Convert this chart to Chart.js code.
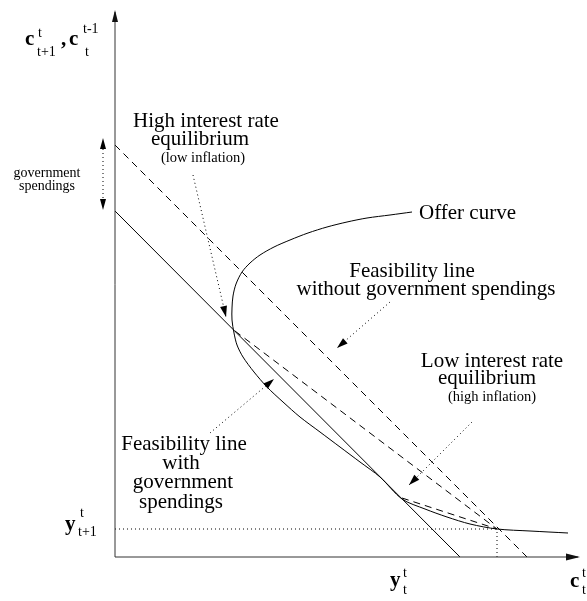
<!DOCTYPE html>
<html>
<head>
<meta charset="utf-8">
<script src="https://cdn.jsdelivr.net/npm/chart.js@4.4.0/dist/chart.umd.min.js"></script>
<style>
  html, body { margin: 0; padding: 0; background: #fff; }
  canvas { display: block; }
</style>
</head>
<body>
<canvas id="chart" width="587" height="601"></canvas>
<script>
// values (x: c_t^t, y: c_{t+1}^t)
const offerX = [453, 415, 382, 355, 332, 310, 287, 265, 245, 225, 205, 185, 168, 152, 139, 128, 122, 119, 117, 117, 118, 121, 127, 135, 145, 159, 175, 193, 212, 232, 252, 275, 297];
const offerY = [24, 26, 28, 33, 40, 48, 58, 80, 95, 110, 125, 140, 155, 170, 185, 200, 212, 224, 237, 249, 261, 273, 285, 294, 302, 310, 317, 324, 330, 335, 339, 342, 345];

const feasGovX = [0, 345];
const feasGovY = [346, 0];
const feasNoGovX = [0, 412];
const feasNoGovY = [412, 0];

const endowment = [382, 28];   // (y_t^t, y_{t+1}^t)
const highEq = [120, 226];
const lowEq = [287, 59];

const xMax = 467;
const yMax = 547;

function pts(xs, ys) {
    return xs.map((x, i) => ({ x: x, y: ys[i] }));
}

function line(data, dash, extra) {
    return Object.assign({
        data: data,
        showLine: true,
        borderColor: '#000',
        borderWidth: 1,
        borderDash: dash,
        pointRadius: 0,
        fill: false,
        tension: 0
    }, extra || {});
}

const SERIF = '"Liberation Serif", "DejaVu Serif", serif';

// annotation arrows in data units: [fromX, fromY, toX, toY]
const noteArrows = [
    [78, 382, 111, 240],
    [275, 255, 222, 209],
    [357, 135, 294, 72],
    [95, 124, 159, 178]
];

function arrowHead(ctx, x1, y1, x2, y2, len, half) {
    const a = Math.atan2(y2 - y1, x2 - x1);
    ctx.beginPath();
    ctx.moveTo(x2, y2);
    ctx.lineTo(x2 - len * Math.cos(a) + half * Math.sin(a), y2 - len * Math.sin(a) - half * Math.cos(a));
    ctx.lineTo(x2 - len * Math.cos(a) - half * Math.sin(a), y2 - len * Math.sin(a) + half * Math.cos(a));
    ctx.closePath();
    ctx.fill();
}

function dottedArrow(ctx, x1, y1, x2, y2) {
    ctx.save();
    ctx.setLineDash([1, 3]);
    ctx.beginPath();
    ctx.moveTo(x1, y1);
    ctx.lineTo(x2, y2);
    ctx.stroke();
    ctx.restore();
    arrowHead(ctx, x1, y1, x2, y2, 11, 3.5);
}

function script(ctx, base, sup, sub, x, yb, supY, subY, supDx, subDx) {
    ctx.textAlign = 'left';
    ctx.font = 'bold 21px ' + SERIF;
    ctx.fillText(base, x, yb);
    ctx.font = '14px ' + SERIF;
    ctx.fillText(sup, x + supDx, supY);
    ctx.fillText(sub, x + subDx, subY);
}

function centered(ctx, text, x, y, size) {
    ctx.textAlign = 'center';
    ctx.font = size + 'px ' + SERIF;
    ctx.fillText(text, x, y);
}

const drawing = {
    id: 'drawing',
    afterDraw(chart) {
        const ctx = chart.ctx;
        const sx = chart.scales.x, sy = chart.scales.y;
        const X = v => sx.getPixelForValue(v);
        const Y = v => sy.getPixelForValue(v);
        ctx.save();
        ctx.lineWidth = 1;

        // axes with arrows
        ctx.strokeStyle = '#333';
        ctx.beginPath();
        ctx.moveTo(X(0), Y(yMax) + 2);
        ctx.lineTo(X(0), Y(0));
        ctx.lineTo(X(xMax) - 4, Y(0));
        ctx.stroke();
        ctx.fillStyle = '#111';
        arrowHead(ctx, X(0), Y(0), X(0), Y(yMax), 12, 3);
        arrowHead(ctx, X(0), Y(0), X(xMax - 2), Y(0), 14, 3.5);

        ctx.strokeStyle = '#000';
        ctx.fillStyle = '#000';
        noteArrows.forEach(a => dottedArrow(ctx, X(a[0]), Y(a[1]), X(a[2]), Y(a[3])));

        // government spendings double arrow
        const gx = X(-12);
        ctx.save();
        ctx.setLineDash([1, 3]);
        ctx.beginPath();
        ctx.moveTo(gx, Y(412));
        ctx.lineTo(gx, Y(352));
        ctx.stroke();
        ctx.restore();
        arrowHead(ctx, gx, Y(390), gx, Y(419), 11, 3);
        arrowHead(ctx, gx, Y(380), gx, Y(347), 11, 3);

        ctx.textBaseline = 'alphabetic';
        centered(ctx, 'High interest rate', 206, 127, 21);
        centered(ctx, 'equilibrium', 200, 145, 21);
        centered(ctx, '(low inflation)', 203, 162, 14.5);

        centered(ctx, 'government', 47, 177, 14);
        centered(ctx, 'spendings', 47, 190, 14);

        ctx.textAlign = 'left';
        ctx.font = '21px ' + SERIF;
        ctx.fillText('Offer curve', 419, 219);

        centered(ctx, 'Feasibility line', 412, 277, 21);
        centered(ctx, 'without government spendings', 426, 295, 21);

        centered(ctx, 'Low interest rate', 492, 367, 21);
        centered(ctx, 'equilibrium', 487, 384, 21);
        centered(ctx, '(high inflation)', 492, 401, 14.5);

        centered(ctx, 'Feasibility line', 184, 450, 21);
        centered(ctx, 'with', 181, 469, 21);
        centered(ctx, 'government', 183, 488, 21);
        centered(ctx, 'spendings', 181, 508, 21);

        // axis symbols
        script(ctx, 'c', 't', 't+1', 25, 45, 37, 56, 13, 12);
        ctx.font = 'bold 21px ' + SERIF;
        ctx.textAlign = 'left';
        ctx.fillText(',', 61, 45);
        script(ctx, 'c', 't-1', 't', 69, 45, 33, 56, 14, 16);
        script(ctx, 'y', 't', 't+1', 65, 530, 517, 536, 15, 13);
        script(ctx, 'y', 't', 't', 390, 586, 577, 594, 13, 13);
        script(ctx, 'c', 't', 't', 570, 587, 577, 594, 12, 12);

        ctx.restore();
    }
};

new Chart(document.getElementById('chart'), {
    type: 'scatter',
    data: {
        datasets: [
            line(pts(offerX, offerY), [], { tension: 0.3 }),
            line(pts(feasGovX, feasGovY), []),
            line(pts(feasNoGovX, feasNoGovY), [7, 5]),
            line([{ x: highEq[0], y: highEq[1] }, { x: endowment[0], y: endowment[1] }], [7, 5]),
            line([{ x: lowEq[0], y: lowEq[1] }, { x: endowment[0], y: endowment[1] }], [7, 5]),
            line([{ x: 0, y: endowment[1] }, { x: endowment[0], y: endowment[1] }], [1, 3]),
            line([{ x: endowment[0], y: 0 }, { x: endowment[0], y: endowment[1] }], [1, 3])
        ]
    },
    options: {
        responsive: false,
        animation: false,
        layout: { padding: { left: 115, right: 5, top: 10, bottom: 44 } },
        plugins: { legend: { display: false }, tooltip: { enabled: false } },
        scales: {
            x: { type: 'linear', min: 0, max: xMax, display: false },
            y: { type: 'linear', min: 0, max: yMax, display: false }
        }
    },
    plugins: [drawing]
});
</script>
</body>
</html>
